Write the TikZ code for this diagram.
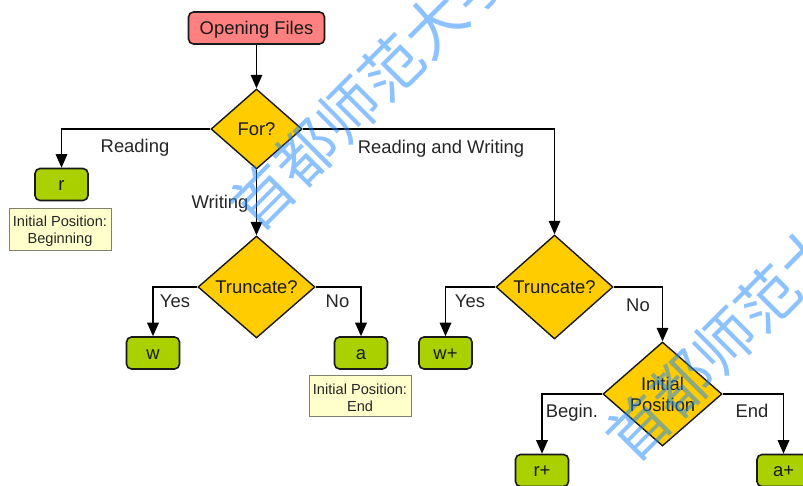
\documentclass[tikz,border=0pt]{standalone}
\usepackage{fontspec}
\setmainfont{Liberation Sans}
\newfontfamily\cjk{Noto Sans CJK SC}
\usetikzlibrary{shapes.geometric,arrows.meta}
\tikzset{
  basefont/.style={font=\fontsize{18.4}{21}\selectfont},
  boxtext/.style={basefont,text=black!90,inner sep=0pt,text height=13pt,text depth=1pt,align=center},
  startbox/.style={boxtext,draw=black!90,line width=1.6pt,rounded corners=5pt,fill=startred,minimum width=136pt,minimum height=32pt},
  modebox/.style={boxtext,draw=black!90,line width=1.6pt,rounded corners=5pt,fill=modegreen,minimum width=53pt,minimum height=32pt},
  decision/.style={basefont,text=black!90,shape=diamond,draw=black!90,line width=1.4pt,fill=decyellow,inner sep=0pt,align=center},
  notebox/.style={font=\fontsize{14.6}{17}\selectfont,text=black!85,draw=noteline,line width=.9pt,fill=notefill,inner sep=0pt,minimum width=102pt,minimum height=41.5pt,align=center},
  lab/.style={basefont,text=black!85,inner sep=0pt,anchor=base},
  flow/.style={draw=black,line width=1.7pt,-{Triangle[width=11.5pt,length=13.5pt]}},
  wmark/.style={font=\cjk\fontsize{61}{61}\selectfont,text=markblue,text opacity=.5,rotate=45,inner sep=0pt,anchor=center}
}
\definecolor{startred}{HTML}{FF8080}
\definecolor{modegreen}{HTML}{AAD000}
\definecolor{decyellow}{HTML}{FFCC00}
\definecolor{notefill}{HTML}{FFFFCC}
\definecolor{noteline}{HTML}{808070}
\definecolor{markblue}{HTML}{1A87FF}
\begin{document}
\begin{tikzpicture}[x=1pt,y=-1pt]
\useasboundingbox (0,0) rectangle (803,485);
\fill[white] (0,0) rectangle (803,485);
\clip (0,0) rectangle (803,485);
\node[startbox] (open) at (256.5,28) {Opening Files};
\node[decision,aspect=1.14,minimum width=91pt,minimum height=80pt] (for) at (256.5,129) {\rule{0pt}{13pt}For?\rule[-1pt]{0pt}{1pt}};
\node[decision,aspect=1.15,minimum width=117pt,minimum height=102pt] (trl) at (256.5,287) {\rule{0pt}{13pt}Truncate?\rule[-1pt]{0pt}{1pt}};
\node[decision,aspect=1.125,minimum width=117pt,minimum height=104pt] (trr) at (554.5,287) {\rule{0pt}{13pt}Truncate?\rule[-1pt]{0pt}{1pt}};
\node[decision,aspect=1.144,minimum width=119pt,minimum height=104pt] (pos) at (662.5,394) {Initial\\Position};
\node[modebox] (r) at (61.5,184.5) {r};
\node[modebox] (w) at (153,353) {w};
\node[modebox] (a) at (361,353) {a};
\node[modebox] (wp) at (445.5,353) {w+};
\node[modebox] (rp) at (542,470.5) {r+};
\node[modebox] (ap) at (783.5,470.5) {a+};
\node[notebox] (n1) at (60,229.5) {\rule{0pt}{14.5pt}Initial Position:\\Beginning};
\node[notebox] (n2) at (360,396) {\rule{0pt}{14.5pt}Initial Position:\\End};
\draw[flow] (open) -- (for);
\draw[flow] (for) -- (trl);
\draw[flow] (for.west) -| (r.north);
\draw[flow,line width=1.4pt] (for.east) -| (trr.north);
\draw[flow] (trl.west) -| (w.north);
\draw[flow] (trl.east) -| (a.north);
\draw[flow] (trr.west) -| (wp.north);
\draw[flow] (trr.east) -| (pos.north);
\draw[flow] (pos.west) -| (rp.north);
\draw[flow] (pos.east) -| (ap.north);
\node[lab] (l1) at (135,152) {Reading};
\node[lab] (l2) at (441,153) {Reading and Writing};
\node[lab] (l3) at (220,208) {Writing};
\node[lab] (l4) at (175,307) {Yes};
\node[lab] (l5) at (337.5,307) {No};
\node[lab] (l6) at (470,307) {Yes};
\node[lab] (l7) at (638,311) {No};
\node[lab] (l8) at (572,417) {Begin.};
\node[lab] (l9) at (752,417) {End};
\node[wmark] (m1) at (370,89) {首都师范大学};
\node[wmark] (m2) at (746,320) {首都师范大学};
\end{tikzpicture}
\end{document}
